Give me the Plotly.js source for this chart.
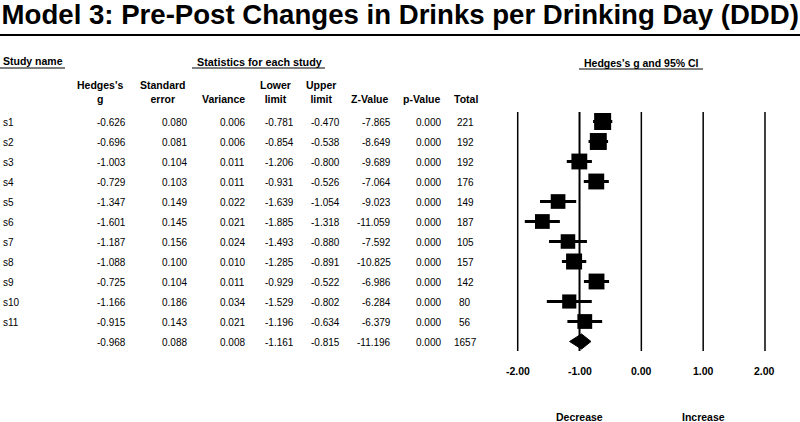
<!DOCTYPE html>
<html>
<head>
<meta charset="utf-8">
<script src="https://cdn.plot.ly/plotly-3.0.1.min.js"></script>
<style>html,body{margin:0;padding:0;background:#fff;}#chart{width:800px;height:422px;}</style>
</head>
<body>
<div id="chart"></div>
<script>
// ---- data ----
const studies = ["s1","s2","s3","s4","s5","s6","s7","s8","s9","s10","s11"];
const hedgesG = [-0.626,-0.696,-1.003,-0.729,-1.347,-1.601,-1.187,-1.088,-0.725,-1.166,-0.915];
const stdErr  = [0.080,0.081,0.104,0.103,0.149,0.145,0.156,0.100,0.104,0.186,0.143];
const variance= [0.006,0.006,0.011,0.011,0.022,0.021,0.024,0.010,0.011,0.034,0.021];
const lowerLim= [-0.781,-0.854,-1.206,-0.931,-1.639,-1.885,-1.493,-1.285,-0.929,-1.529,-1.196];
const upperLim= [-0.470,-0.538,-0.800,-0.526,-1.054,-1.318,-0.880,-0.891,-0.522,-0.802,-0.634];
const zValue  = [-7.865,-8.649,-9.689,-7.064,-9.023,-11.059,-7.592,-10.825,-6.986,-6.284,-6.379];
const pValue  = [0.000,0.000,0.000,0.000,0.000,0.000,0.000,0.000,0.000,0.000,0.000];
const total   = [221,192,192,176,149,187,105,157,142,80,56];
const summaryG = -0.968, summarySE = 0.088, summaryVar = 0.008, summaryLL = -1.161, summaryUL = -0.815, summaryZ = -11.196, summaryP = 0.000, summaryTotal = 1657;
const tickVals = [-2, -1, 0, 1, 2];
const tickLabels = ["-2.00","-1.00","0.00","1.00","2.00"];
const headers = ["Hedges's<br>g","Standard<br>error","Variance","Lower<br>limit","Upper<br>limit","Z-Value","p-Value","Total"];
const directionLabels = ["Decrease","Increase"];

// ---- layout helpers (pixel -> y units) ----
const W = 800, H = 422;
const row0 = 121.5, rowH = 20;
const py = p => (p - row0) / rowH;
const px = p => p / W;
const FONT = "Arial, 'Liberation Sans', sans-serif";

const idx = studies.map((_, i) => i);
const nS = studies.length;

const traces = [];
// CI lines (drawn first, under the squares)
const ciX = [], ciY = [];
studies.forEach((s, i) => { ciX.push(lowerLim[i], upperLim[i], null); ciY.push(i, i, null); });
traces.push({
  type: "scatter", mode: "lines", x: ciX, y: ciY, connectgaps: false,
  line: {color: "#000", width: 3}, hoverinfo: "skip", showlegend: false
});
// study squares
traces.push({
  type: "scatter", mode: "markers",
  x: hedgesG, y: idx, opacity: 1,
  marker: {symbol: "square", color: "#000", opacity: 1, size: stdErr.map(s => 12 + 0.4 / s), line: {width: 0}},
  hoverinfo: "skip", showlegend: false
});
// summary diamond
const dh = 0.38;
traces.push({
  type: "scatter", mode: "lines", fill: "toself", fillcolor: "#000",
  x: [summaryLL, summaryG, summaryUL, summaryG, summaryLL],
  y: [nS, nS - dh, nS, nS + dh, nS],
  line: {color: "#000", width: 1}, hoverinfo: "skip", showlegend: false
});

const ann = [];
const fmt = (v, d) => v.toFixed(d);
const colRight = [128, 189, 247, 296, 342, 393, 443];
const colHeadC = [100, 163, 223, 275, 321, 370, 422, 466];
const totalC = 465;
function txt(text, xp, yv, anchor, size, extra) {
  ann.push(Object.assign({text: text, xref: "paper", yref: "y", x: px(xp), y: yv,
    xanchor: anchor, yanchor: "middle", showarrow: false,
    font: {family: FONT, size: size, color: "#000"}}, extra || {}));
}
// headers
txt("<b>Study name</b>", 1, py(61), "left", 10.5);
txt("<b>Statistics for each study</b>", 259, py(61.5), "center", 10.8);
txt("<b>Hedges's g and 95% CI</b>", 641, py(63), "center", 10.5);
headers.forEach((h, k) => {
  const twoLine = h.indexOf("<br>") >= 0;
  txt("<b>" + h + "</b>", colHeadC[k], twoLine ? py(92) : py(99), "center", 10.5);
});
// rows
const rowsVals = studies.map((s, i) => [hedgesG[i], stdErr[i], variance[i], lowerLim[i], upperLim[i], zValue[i], pValue[i]]);
rowsVals.push([summaryG, summarySE, summaryVar, summaryLL, summaryUL, summaryZ, summaryP]);
const totals = total.concat([summaryTotal]);
rowsVals.forEach((vals, i) => {
  const yv = i + 0.05;
  if (i < nS) txt(studies[i], 1, yv, "left", 10);
  vals.forEach((v, k) => txt(fmt(v, 3), colRight[k], yv, "right", 10));
  txt(String(totals[i]), totalC, yv, "center", 10);
});
// tick labels
tickVals.forEach((v, k) => {
  ann.push({text: "<b>" + tickLabels[k] + "</b>", xref: "x", yref: "y", x: v, y: py(371),
    xanchor: "center", yanchor: "middle", showarrow: false,
    font: {family: FONT, size: 10.5, color: "#000"}});
});
[-1, 1].forEach((v, k) => {
  ann.push({text: "<b>" + directionLabels[k] + "</b>", xref: "x", yref: "y", x: v, y: py(417),
    xanchor: "center", yanchor: "middle", showarrow: false,
    font: {family: FONT, size: 10.5, color: "#000"}});
});

const shapes = [];
// title rule
shapes.push({type: "line", xref: "paper", yref: "y", x0: 0, x1: 1, y0: py(35), y1: py(35), line: {color: "#000", width: 2}});
// underlines
shapes.push({type: "line", xref: "paper", yref: "y", x0: px(0), x1: px(65), y0: py(68), y1: py(68), line: {color: "#000", width: 1}});
shapes.push({type: "line", xref: "paper", yref: "y", x0: px(192), x1: px(325), y0: py(68), y1: py(68), line: {color: "#000", width: 1}});
shapes.push({type: "line", xref: "paper", yref: "y", x0: px(579), x1: px(703), y0: py(69), y1: py(69), line: {color: "#000", width: 1}});
// vertical reference lines
tickVals.forEach(v => {
  shapes.push({type: "line", xref: "x", yref: "y", x0: v, x1: v, y0: py(112), y1: py(351),
    line: {color: "#000", width: v === -1 ? 2 : 1.5}, layer: "below"});
});

// x axis: -2 at 517.7 px, 2 at 765 px
const ppu = (765 - 517.7) / 4;
const xr = [-2.2, 2.2];
const dl = (517.7 - 0.2 * ppu) / W, dr = (765 + 0.2 * ppu) / W;

const layout = {
  width: W, height: H,
  margin: {l: 0, r: 0, t: 0, b: 0, pad: 0},
  paper_bgcolor: "#fff", plot_bgcolor: "rgba(0,0,0,0)",
  title: {text: "<b>Model 3: Pre-Post Changes in Drinks per Drinking Day (DDD)</b>",
    x: 0.002, xanchor: "left", xref: "paper", y: 1 - 14 / H, yanchor: "middle",
    font: {family: FONT, size: 27.6, color: "#000"}},
  xaxis: {domain: [dl, dr], range: xr, visible: false, fixedrange: true},
  yaxis: {domain: [0, 1], range: [py(H), py(0)], visible: false, fixedrange: true},
  annotations: ann, shapes: shapes, showlegend: false
};
Plotly.newPlot("chart", traces, layout, {staticPlot: true, displayModeBar: false});
</script>
</body>
</html>
